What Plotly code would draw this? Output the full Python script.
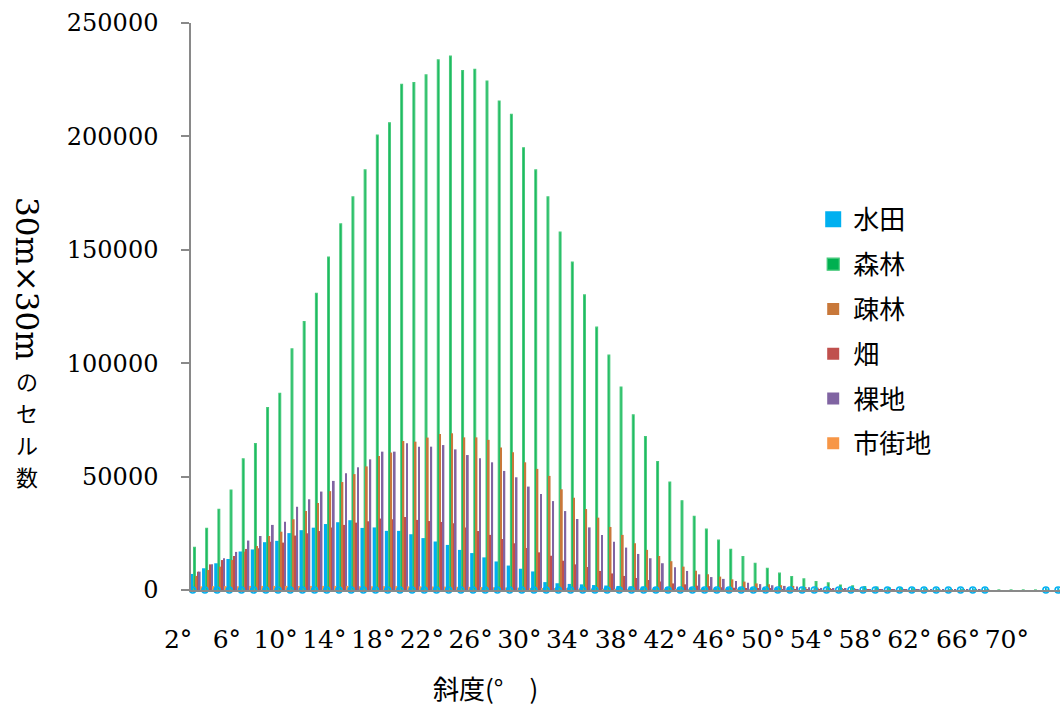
import plotly.graph_objects as go

# ---------------- data ----------------
degrees = list(range(2, 74))            # slope categories 2°..73°
tick_degrees = degrees[::4]             # every 4th category labelled
tick_labels = [f"{d}°" for d in tick_degrees]

paddy = [6200, 8700, 10900, 12800, 16100, 17000, 20200, 20800, 24200, 25500,
         26600, 28200, 29000, 29900, 26500, 26700, 25200, 25200, 23700, 22000,
         20500, 19000, 16800, 15400, 13500, 11700, 9900, 8500, 7300, 2600,
         2100, 1800, 1600, 1300, 1100, 900, 700, 600, 400, 300,
         200, 150, 100, 80, 60, 50, 40, 30, 20, 10,
         0, 0, 0, 0, 0, 0, 0, 0, 0, 0,
         0, 0, 0, 0, 0, 0, None, None, None, None,
         0, 0]

forest = [18800, 27200, 35600, 44100, 57800, 64500, 80400, 86700, 106300, 118300,
          130800, 146800, 161400, 173300, 185200, 200600, 206000, 223000, 223700, 227100,
          233700, 235400, 229000, 229600, 224400, 215600, 209700, 195000, 185200, 173300,
          157800, 144600, 130100, 115900, 103600, 89500, 77200, 67600, 56600, 47600,
          39300, 32500, 26800, 22000, 17900, 14700, 11800, 9500, 7400, 5900,
          4900, 3700, 3100, 2200, 1800, 1500, 1300, 900, 700, 500,
          400, 300, 200, 150, 100, 80, 50, 40, 30, 20,
          10, 10]

sparse_forest = [6200, 8800, 10300, 13200, 16900, 19400, 23800, 25700, 31200, 34800,
                 38400, 43600, 47600, 51100, 54500, 59100, 60600, 65700, 65400, 67200,
                 68800, 69100, 67300, 67300, 66200, 62800, 60700, 56300, 53400, 50300,
                 44400, 40700, 35700, 31900, 27800, 24300, 20600, 17700, 15000, 12700,
                 10300, 8500, 6900, 5900, 4700, 3700, 2900, 2500, 2100, 1800,
                 1300, 1000, 900, 700, 500, 400, 300, 250, 200, 150,
                 100, 80, 60, 40, 30, 20, 0, 0, 0, 0,
                 0, 0]

field = [8100, 11300, 13200, 15000, 18100, 18400, 21300, 20900, 24000, 25000,
         26000, 27600, 28700, 29700, 30300, 31500, 31200, 32200, 30900, 30400,
         30000, 29400, 27600, 26000, 24300, 22500, 20600, 18500, 16600, 15100,
         12900, 11300, 10100, 8400, 7300, 6200, 5300, 4400, 3700, 2900,
         2500, 1900, 1700, 1200, 1000, 800, 600, 500, 400, 300,
         250, 200, 150, 100, 80, 60, 40, 30, 20, 10,
         0, 0, 0, 0, 0, 0, 0, 0, 0, 0,
         0, 0]

bare = [8100, 11300, 14000, 16800, 21800, 23800, 28700, 30100, 36700, 40000,
        43400, 48100, 51500, 54100, 57600, 61000, 61000, 64700, 63200, 63200,
        63900, 62000, 59500, 58100, 56300, 52500, 49700, 45600, 42300, 39200,
        34800, 31300, 27600, 24200, 21300, 18700, 15900, 14000, 11800, 10000,
        8400, 6900, 5700, 4900, 4000, 3200, 2600, 2100, 1800, 1500,
        1200, 900, 700, 500, 400, 300, 200, 150, 100, 80,
        60, 40, 30, 20, 10, 0, 0, 0, 0, 0,
        0, 0]

urban = [1600, 1700, 1700, 1700, 1800, 1800, 1800, 1800, 1800, 1800,
         1800, 1800, 1800, 1700, 1700, 1700, 1700, 1600, 1600, 1500,
         1500, 1400, 1400, 1300, 1200, 1100, 1000, 900, 800, 600,
         500, 400, 350, 300, 250, 200, 150, 120, 100, 80,
         60, 50, 40, 30, 20, 10, 0, 0, 0, 0,
         0, 0, 0, 0, 0, 0, 0, 0, 0, 0,
         0, 0, 0, 0, 0, 0, 0, 0, 0, 0,
         0, 0]

series_names = ["水田", "森林", "疎林", "畑", "裸地", "市街地"]
series_values = [paddy, forest, sparse_forest, field, bare, urban]
series_colors = ["#00B0F0", "#00B050", "#C8783A", "#C0504D", "#8064A2", "#F79646"]

y_ticks = [0, 50000, 100000, 150000, 200000, 250000]

# ---------------- figure ----------------
BARGAP = 0.14
n_series = len(series_names)
slot = (1 - BARGAP) / n_series

fig = go.Figure()
for i, (name, vals, col) in enumerate(zip(series_names, series_values, series_colors)):
    line = dict(width=0)
    if i == 0:
        line = dict(color=col, width=4)
    elif i == 1:
        line = dict(color="#45C97A", width=1.2)
    fig.add_trace(go.Bar(
        x=degrees, y=vals, name=name, marker_color=col, marker_line=line,
        legendgroup=name,
    ))

# rounded base of the 水田 columns (visible as rings along the axis)
blue_offset = (0 - (n_series - 1) / 2) * slot
ring_x = [d + blue_offset for d, v in zip(degrees, paddy) if v is not None]
fig.add_trace(go.Scatter(
    x=ring_x, y=[0] * len(ring_x), mode="markers", showlegend=False,
    marker=dict(symbol="circle-open", size=6, color="#00B0F0", line=dict(width=1.6)),
    cliponaxis=False, hoverinfo="skip",
))

serif = "DejaVu Serif"
cjk = "Noto Sans CJK JP"

fig.update_layout(
    width=1060, height=708,
    margin=dict(l=191, r=0, t=23, b=118),
    paper_bgcolor="white", plot_bgcolor="white",
    barmode="group", bargap=BARGAP, bargroupgap=0,
    font=dict(family=cjk, color="black"),
    showlegend=True,
    legend=dict(
        x=0.716, xanchor="left", y=0.695, yanchor="top",
        font=dict(family=cjk, size=26, color="black"),
        tracegroupgap=8, bgcolor="rgba(0,0,0,0)",
    ),
    xaxis=dict(
        range=[1.5, 72.8], showgrid=False, zeroline=False,
        showline=True, linecolor="#898989", linewidth=2,
        ticks="", tickvals=tick_degrees, ticktext=tick_labels,
        tickfont=dict(family=serif, size=25, color="black"),
        ticklabelstandoff=26, ticklabelshift=-19,
    ),
    yaxis=dict(
        range=[0, 250000], showgrid=False, zeroline=False,
        showline=True, linecolor="#898989", linewidth=1.5,
        ticks="outside", ticklen=8, tickcolor="#898989", tickwidth=1.5,
        tickvals=y_ticks, tickformat="d",
        tickfont=dict(family=serif, size=24, color="black"),
        ticklabelstandoff=18,
    ),
)

# axis titles
fig.add_annotation(
    text="斜度(°　)", xref="paper", yref="paper",
    x=(485 - 191) / 869, y=-(688 - 590) / 567, xanchor="center", yanchor="middle",
    showarrow=False, font=dict(family=cjk, size=26, color="black"),
)
fig.add_annotation(
    text="30m×30m", xref="paper", yref="paper", textangle=90,
    x=(27 - 191) / 869, y=(590 - 279) / 567, xanchor="center", yanchor="middle",
    showarrow=False, font=dict(family=serif, size=31, color="black"),
)
title_chars = ["の", "セ", "ル", "数"]
title_char_y = [380, 412, 444, 476]
for ch, py in zip(title_chars, title_char_y):
    fig.add_annotation(
        text=ch, xref="paper", yref="paper",
        x=(27 - 191) / 869, y=(590 - py) / 567, xanchor="center", yanchor="middle",
        showarrow=False, font=dict(family=cjk, size=22, color="black"),
    )

fig.write_html("out.html")
